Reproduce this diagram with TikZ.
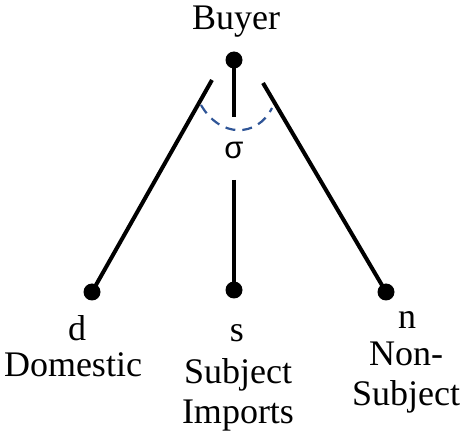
\documentclass[tikz,border=0pt]{standalone}
\usepackage{fontspec}
\setmainfont{Liberation Serif}
\newfontfamily\sigmafont{Liberation Sans}
\definecolor{arcblue}{RGB}{47,85,151}
\tikzset{
  dot/.style={circle, fill=black, inner sep=0pt, minimum size=17pt},
  branch/.style={line width=4pt},
  lbl/.style={font=\fontsize{36}{40}\selectfont, inner sep=0pt, align=center}
}
\begin{document}
\begin{tikzpicture}[x=1pt,y=-1pt]
\useasboundingbox (0,0) rectangle (464,433);
% nodes
\node[lbl] (buyertxt) at (236,22) {Buyer};
\node[dot] (buyer) at (234,60) {};
\node[dot] (d) at (92,292) {};
\node[dot] (s) at (234,290) {};
\node[dot] (n) at (386,292) {};
\node[font=\sigmafont\fontsize{31}{34}\selectfont, inner sep=0pt] (sigma) at (234,150) {σ};
\coordinate (dtop) at (212,80);
\coordinate (ntop) at (263,83);
\coordinate (sup1) at (234,117);
\coordinate (sdown) at (234,180);
\coordinate (arcl) at (201,105);
\coordinate (arcr) at (272,108);
% branches
\draw[branch] (dtop) -- (d.center);
\draw[branch] (ntop) -- (n.center);
\draw[branch] (buyer.center) -- (sup1);
\draw[branch] (sdown) -- (s.center);
\draw[arcblue, line width=2.2pt, dash pattern=on 10pt off 7pt] (arcl) .. controls (220,138) and (257,138) .. (arcr);
% labels
\node[lbl] (dlbl) at (77,328) {d};
\node[lbl] (dname) at (73,365) {Domestic};
\node[lbl] (slbl) at (237,333) {s};
\node[lbl] (sname) at (238,395) {Subject\\Imports};
\node[lbl] (nlbl) at (407,320) {n};
\node[lbl] (nname) at (406,378) {Non-\\Subject};
\end{tikzpicture}
\end{document}
